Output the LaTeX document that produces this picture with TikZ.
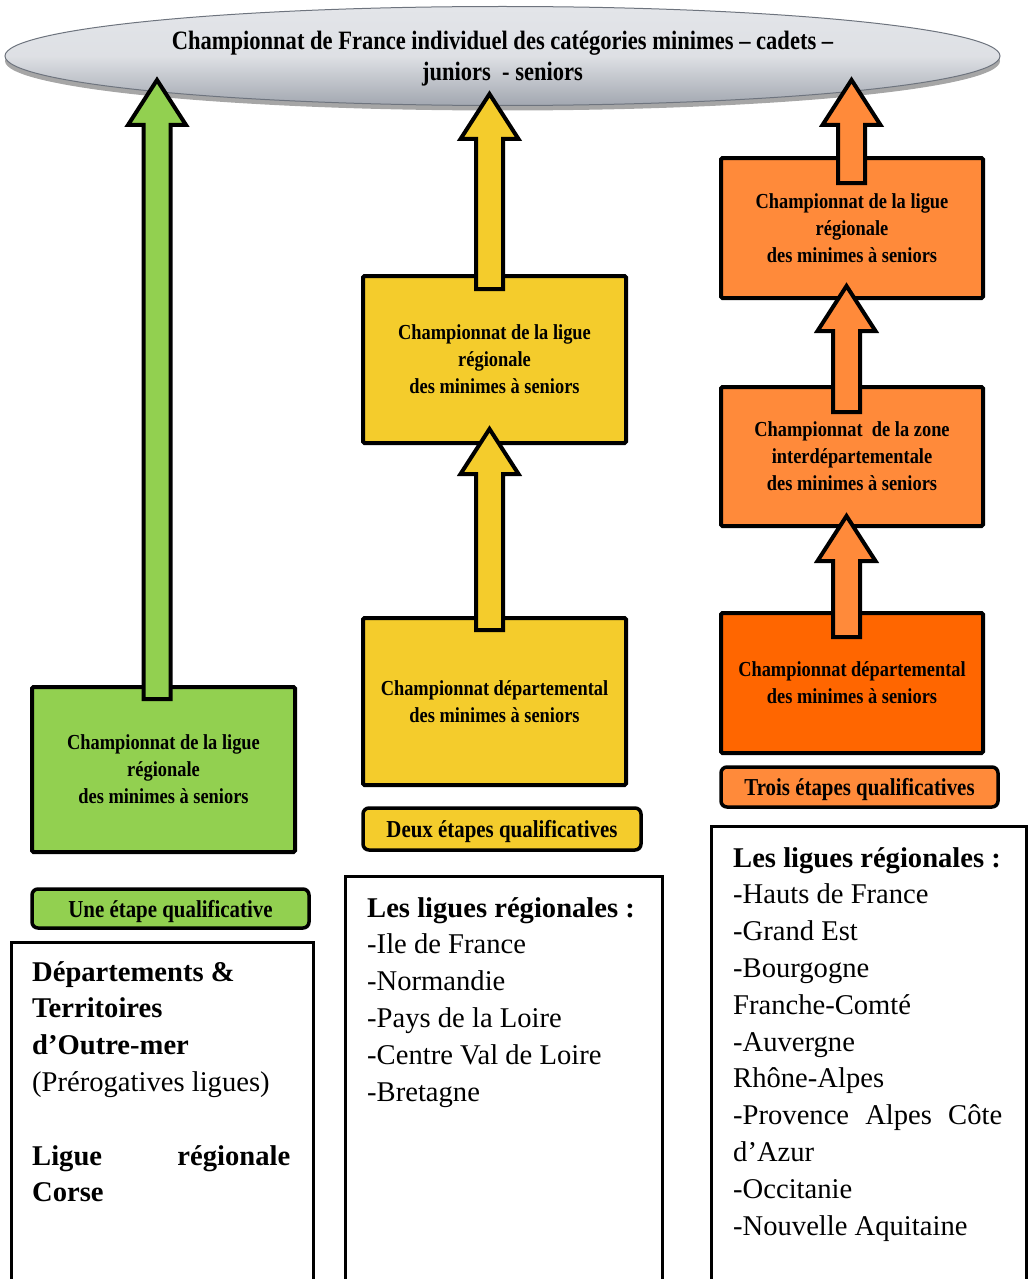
\documentclass[tikz,border=0pt]{standalone}
\usepackage{fontspec}
\setmainfont{Liberation Serif}
\newfontfamily\condfont[FakeStretch=0.86]{Liberation Serif}
\newfontfamily\titlefont[FakeStretch=0.85]{Liberation Serif}
\usetikzlibrary{shapes.geometric,calc,shadows}
\definecolor{lgreen}{HTML}{92D050}
\definecolor{lyellow}{HTML}{F4CC2C}
\definecolor{lorange}{HTML}{FF8A3A}
\definecolor{dorange}{HTML}{FF6600}
\definecolor{elltop}{HTML}{E3E5E9}
\definecolor{ellbot}{HTML}{A2A7B0}
\definecolor{ellline}{HTML}{6E747E}
\tikzset{
  stagebox/.style={draw=black, line width=4pt, rounded corners=1.5pt, inner sep=0pt,
    minimum width=263pt, align=center, text depth=-5pt,
    font=\condfont\bfseries\fontsize{21.4}{27}\selectfont},
  stagelabel/.style={draw=black, line width=3.5pt, rounded corners=6pt, inner sep=0pt,
    minimum width=277pt, minimum height=40pt, align=center, text depth=0pt,
    font=\condfont\bfseries\fontsize{24.3}{28}\selectfont},
  listframe/.style={draw=black, line width=3pt, inner sep=0pt, anchor=north west},
  listtext/.style={anchor=base west, inner sep=0pt},
  bigarrow/.style={draw=black, line width=4pt, line join=miter, fill=#1}
}
\newcommand\blockarrow[3]{%
  \draw[bigarrow=#1] let \p1=(#2), \p2=(#3) in
    (\x1-13.5pt,\y1) -- (\x1-13.5pt,\y2-45pt) -- (\x1-29pt,\y2-45pt) -- (\x2,\y2)
    -- (\x1+29pt,\y2-45pt) -- (\x1+13.5pt,\y2-45pt) -- (\x1+13.5pt,\y1) -- cycle;}
\newcommand\listfont{\fontsize{28.6}{36.8}\selectfont}
\begin{document}
\begin{tikzpicture}[x=1pt,y=-1pt]
\useasboundingbox (0,0) rectangle (1033,1279);
% title ellipse
\node (title) [ellipse, draw=ellline, line width=1pt, top color=elltop, bottom color=ellbot,
  middle color=elltop!92!ellbot,
  drop shadow={shadow xshift=0pt, shadow yshift=-5pt, opacity=0.35, fill=black},
  minimum width=995pt, minimum height=99pt, inner sep=0pt, align=center, text depth=-2pt,
  font=\titlefont\bfseries\fontsize{26.5}{31}\selectfont]
  at (502.5,56) {Championnat de France individuel des catégories minimes – cadets –\\juniors \ - seniors};

% green column
\node (gbox) [stagebox, fill=lgreen, minimum height=165pt] at (163.5,769.5)
  {Championnat de la ligue\\régionale\\des minimes à seniors};
\node (glab) [stagelabel, fill=lgreen, minimum height=39pt] at (170.5,908.5) {Une étape qualificative};

% yellow column
\node (ybox1) [stagebox, fill=lyellow, minimum height=167pt] at (494.5,359.5)
  {Championnat de la ligue\\régionale\\des minimes à seniors};
\node (ybox2) [stagebox, fill=lyellow, minimum height=167pt] at (494.5,701.5)
  {Championnat départemental\\des minimes à seniors};
\node (ylab) [stagelabel, fill=lyellow, minimum width=278pt, minimum height=42pt] at (502,829) {Deux étapes qualificatives};

% orange column
\node (obox1) [stagebox, fill=lorange, minimum width=262pt, minimum height=140pt] at (852,228)
  {Championnat de la ligue\\régionale\\des minimes à seniors};
\node (obox2) [stagebox, fill=lorange, minimum width=262pt, minimum height=139pt] at (852,456.5)
  {Championnat \ de la zone\\interdépartementale\\des minimes à seniors};
\node (obox3) [stagebox, fill=dorange, minimum width=262pt, minimum height=140pt] at (852,683)
  {Championnat départemental\\des minimes à seniors};
\node (olab) [stagelabel, fill=lorange] at (859.5,787) {Trois étapes qualificatives};

% arrow tips
\coordinate (gtip) at (157,80);
\coordinate (ytip1) at (489.5,94);
\coordinate (ytip2) at (489.5,429);
\coordinate (otip1) at (851.5,80);
\coordinate (otip2) at (846.5,286);
\coordinate (otip3) at (846.5,516);

\blockarrow{lgreen}{$(gtip |- gbox.north)+(0,14)$}{gtip}
\blockarrow{lyellow}{$(ytip1 |- ybox1.north)+(0,15)$}{ytip1}
\blockarrow{lyellow}{$(ytip2 |- ybox2.north)+(0,14)$}{ytip2}
\blockarrow{lorange}{$(otip1 |- obox1.north)+(0,27)$}{otip1}
\blockarrow{lorange}{$(otip2 |- obox2.north)+(0,27)$}{otip2}
\blockarrow{lorange}{$(otip3 |- obox3.north)+(0,26)$}{otip3}

% list frames
\node (lframe) [listframe, minimum width=302pt, minimum height=345pt] at (10,941) {};
\node (mframe) [listframe, minimum width=317pt, minimum height=410pt] at (344,874.5) {};
\node (rframe) [listframe, minimum width=315pt, minimum height=460pt] at (710,825) {};

\node (ltext) [listtext] at ($(lframe.north west)+(22,40)$) {\parbox[t]{258pt}{\raggedright\listfont
  \textbf{Départements \&}\\
  \textbf{Territoires}\\
  \textbf{d’Outre-mer}\\
  (Prérogatives ligues)\\[36.8pt]
  \textbf{Ligue\hfill régionale}\\
  \textbf{Corse}}};

\node (mtext) [listtext] at ($(mframe.north west)+(23,42.5)$) {\parbox[t]{290pt}{\raggedright\listfont
  \textbf{Les ligues régionales :}\\
  -Ile de France\\
  -Normandie\\
  -Pays de la Loire\\
  -Centre Val de Loire\\
  -Bretagne}};

\node (rtext) [listtext] at ($(rframe.north west)+(23,42)$) {\parbox[t]{269pt}{\raggedright\listfont
  \textbf{Les ligues régionales :}\\
  -Hauts de France\\
  -Grand Est\\
  -Bourgogne\\
  Franche-Comté\\
  -Auvergne\\
  Rhône-Alpes\\
  -Provence\hfill Alpes\hfill Côte\\
  d’Azur\\
  -Occitanie\\
  -Nouvelle Aquitaine}};
\end{tikzpicture}
\end{document}
